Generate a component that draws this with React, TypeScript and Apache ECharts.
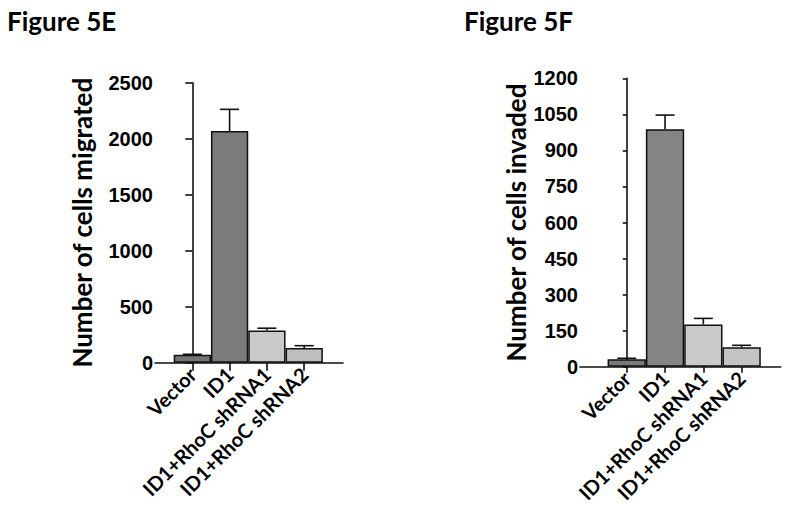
import React, { useEffect, useRef } from "react";
import * as echarts from "echarts";

const categories = ["Vector", "ID1", "ID1+RhoC shRNA1", "ID1+RhoC shRNA2"];
const categoryPositions = [0, 1, 2, 3];

const migratedMeans = [70, 2068, 287, 131];
const migratedErrors = [5, 194, 21, 21];
const migratedTicks = { min: 0, max: 2500, interval: 500 };

const invadedMeans = [31, 988, 176, 81];
const invadedErrors = [4, 59, 25, 8];
const invadedTicks = { min: 0, max: 1200, interval: 150 };

const colorsE = ["#747474", "#7b7b7b", "#c9c9c9", "#bebebe"];
const colorsF = ["#787878", "#848484", "#cacaca", "#c3c3c3"];

const TITLE_FONT = "Lato, 'Open Sans', sans-serif";
const NUM_FONT = "'Liberation Sans', Arial, sans-serif";

function buildPanel(
  gridIndex: number,
  means: number[],
  errors: number[],
  colors: string[],
  barWidth: number,
  capHalf: number
) {
  const bars = {
    type: "bar",
    xAxisIndex: gridIndex,
    yAxisIndex: gridIndex,
    barWidth,
    z: 2,
    data: means.map((v, i) => ({
      value: [categoryPositions[i], v],
      itemStyle: { color: colors[i], borderColor: "#111", borderWidth: 1.5 },
    })),
  };
  const errs = {
    type: "custom",
    xAxisIndex: gridIndex,
    yAxisIndex: gridIndex,
    z: 5,
    clip: false,
    encode: { x: 0, y: 1 },
    data: means.map((v, i) => [categoryPositions[i], v, errors[i]]),
    renderItem: (params: any, api: any) => {
      const x = api.value(0);
      const y = api.value(1);
      const e = api.value(2);
      const base = api.coord([x, y]);
      const top = api.coord([x, y + e]);
      const st = { stroke: "#111", lineWidth: 1.6 };
      return {
        type: "group",
        children: [
          { type: "line", shape: { x1: base[0], y1: base[1], x2: top[0], y2: top[1] }, style: st },
          { type: "line", shape: { x1: top[0] - capHalf, y1: top[1], x2: top[0] + capHalf, y2: top[1] }, style: st },
        ],
      };
    },
  };
  return [bars, errs];
}

function xAxisFor(gridIndex: number, min: number, max: number, tickLen: number) {
  return {
    type: "value",
    gridIndex,
    min,
    max,
    splitLine: { show: false },
    axisLine: { show: true, onZero: false, lineStyle: { color: "#111", width: 1.6 } },
    axisTick: { show: true, length: tickLen, customValues: categoryPositions, lineStyle: { color: "#111", width: 1.6 } },
    axisLabel: {
      customValues: categoryPositions,
      rotate: 45,
      margin: 8,
      hideOverlap: false,
      formatter: (v: number) => categories[Math.round(v)] ?? "",
      fontFamily: TITLE_FONT,
      fontWeight: "bold",
      fontSize: 20,
      color: "#000",
    },
  };
}

function yAxisFor(gridIndex: number, t: { min: number; max: number; interval: number }, name: string, nameGap: number, tickLen: number) {
  return {
    type: "value",
    gridIndex,
    min: t.min,
    max: t.max,
    interval: t.interval,
    name,
    nameLocation: "middle",
    nameGap,
    nameTextStyle: { fontFamily: TITLE_FONT, fontWeight: "bold", fontSize: 26, color: "#000" },
    splitLine: { show: false },
    axisLine: { show: true, lineStyle: { color: "#111", width: 1.6 } },
    axisTick: { show: true, length: tickLen, lineStyle: { color: "#111", width: 1.6 } },
    axisLabel: {
      margin: 2,
      formatter: (v: number) => String(v),
      fontFamily: NUM_FONT,
      fontWeight: "bold",
      fontSize: 20,
      color: "#000",
    },
  };
}

export default function App() {
  const ref = useRef<HTMLDivElement>(null);
  useEffect(() => {
    if (!ref.current) return;
    const chart = echarts.init(ref.current, undefined, { renderer: "svg" });
    chart.setOption({
      animation: false,
      backgroundColor: "#ffffff",
      graphic: [
        { type: "text", left: 7, top: 8, style: { text: "Figure 5E", fontFamily: TITLE_FONT, fontWeight: "bold", fontSize: 26, fill: "#000" } },
        { type: "text", left: 464, top: 8, style: { text: "Figure 5F", fontFamily: TITLE_FONT, fontWeight: "bold", fontSize: 26, fill: "#000" } },
      ],
      grid: [
        { left: 155, top: 82.7, width: 188, height: 280, containLabel: false, outerBoundsMode: "none" },
        { left: 580, top: 78.3, width: 200.7, height: 288.4, containLabel: false, outerBoundsMode: "none" },
      ],
      xAxis: [xAxisFor(0, -1.0, 4.04, 8), xAxisFor(1, -1.22, 4.02, 6)],
      yAxis: [
        yAxisFor(0, migratedTicks, "Number of cells migrated", 60, 7),
        yAxisFor(1, invadedTicks, "Number of cells invaded", 51, 4),
      ],
      series: [
        ...buildPanel(0, migratedMeans, migratedErrors, colorsE, 37.3, 9.5),
        ...buildPanel(1, invadedMeans, invadedErrors, colorsF, 38.3, 9.5),
      ],
    });
    return () => chart.dispose();
  }, []);
  return <div ref={ref} style={{ position: "fixed", left: 0, top: 0, width: 791, height: 516 }} />;
}
